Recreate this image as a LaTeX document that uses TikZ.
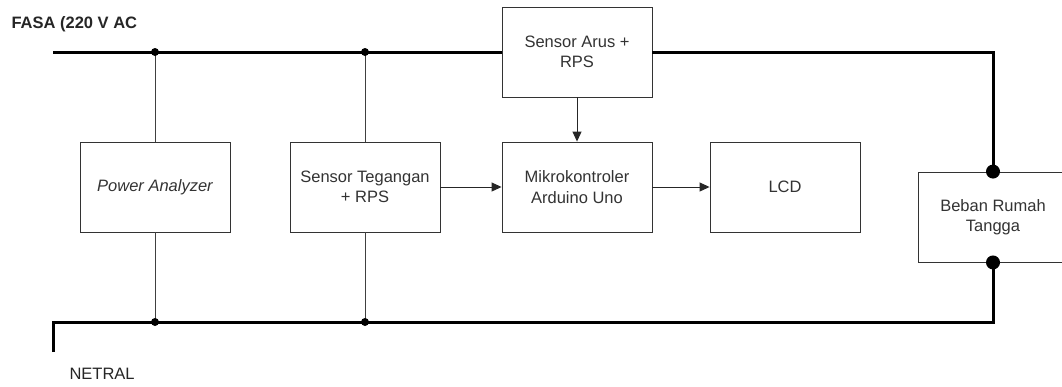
\documentclass[tikz,border=0pt]{standalone}
\usepackage{fontspec}
\setmainfont{Liberation Sans}
\usetikzlibrary{arrows.meta}
\begin{document}
\begin{tikzpicture}[x=1pt,y=-1pt,
  blk/.style={draw=black!80,line width=0.9pt,minimum width=150pt,minimum height=90pt,inner sep=0pt,align=center,font=\fontsize{16.5}{20.5}\selectfont,text=black!80},
  bus/.style={line width=3pt,line join=miter},
  wire/.style={draw=black!75,line width=0.9pt},
  sig/.style={draw=black!85,line width=1pt,-{Triangle[length=10pt,width=9pt]}},
  dot/.style={circle,fill=black,inner sep=0pt,minimum size=#1}]
\useasboundingbox (0,0) rectangle (1062,386);
\clip (0,0) rectangle (1062,386);
\fill[white] (0,0) rectangle (1062,386);
% blocks
\node[blk] (arus) at (577,52) {Sensor Arus +\\RPS};
\node[blk] (pa) at (155,187) {\itshape Power Analyzer};
\node[blk] (teg) at (365,187) {Sensor Tegangan\\+ RPS};
\node[blk] (mk) at (577,187) {Mikrokontroler\\Arduino Uno};
\node[blk] (lcd) at (785,187) {LCD};
\node[blk] (beban) at (993,217) {Beban Rumah\\Tangga};
% labels
\node[anchor=west,font=\bfseries\fontsize{16.5}{19}\selectfont,text=black!85] (fasa) at (8,24) {FASA (220 V AC};
\node[anchor=west,font=\fontsize{16.5}{19}\selectfont,text=black!85] (netral) at (66,374) {NETRAL};
% coordinates
\coordinate (f0) at (53,52);
\coordinate (f1) at (155,52);
\coordinate (f2) at (365,52);
\coordinate (n0) at (53,352);
\coordinate (nc) at (53,322);
\coordinate (n1) at (155,322);
\coordinate (n2) at (365,322);
\coordinate (fr) at (993,52);
\coordinate (nr) at (993,322);
% buses
\draw[bus] (f0) -- (arus.west);
\draw[bus] (arus.east) -- (fr) -- (beban.north);
\draw[bus] (n0) -- (nc) -- (nr) -- (beban.south);
% taps
\draw[wire] (f1) -- (pa.north);
\draw[wire] (pa.south) -- (n1);
\draw[wire] (f2) -- (teg.north);
\draw[wire] (teg.south) -- (n2);
% dots
\node[dot=8pt] at (f1) {};
\node[dot=8pt] at (f2) {};
\node[dot=8pt] at (n1) {};
\node[dot=8pt] at (n2) {};
\node[dot=14pt] at (beban.north) {};
\node[dot=14pt] at (beban.south) {};
% signals
\draw[sig] (arus.south) -- (mk.north);
\draw[sig] (teg.east) -- (mk.west);
\draw[sig] (mk.east) -- (lcd.west);
\end{tikzpicture}
\end{document}
